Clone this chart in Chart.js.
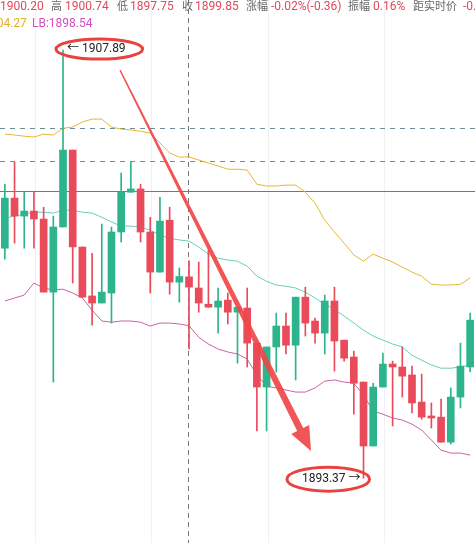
<!DOCTYPE html>
<html>
<head>
<meta charset="utf-8">
<script src="https://cdn.jsdelivr.net/npm/chart.js@4.4.1/dist/chart.umd.min.js"></script>
<style>
  html, body { margin: 0; padding: 0; background: #fff; }
  canvas { display: block; }
</style>
</head>
<body>
<canvas id="kline" width="475" height="543"></canvas>
<script>
const ctx = document.getElementById("kline");

// one label per candle
const labels = [
  "1", "2", "3", "4", "5", "6", "7", "8", "9", "10",
  "11", "12", "13", "14", "15", "16", "17", "18", "19", "20",
  "21", "22", "23", "24", "25", "26", "27", "28", "29", "30",
  "31", "32", "33", "34", "35", "36", "37", "38", "39", "40",
  "41", "42", "43", "44", "45", "46", "47", "48", "49",
];

const openP = [
  1901.17, 1902.87, 1902.26, 1902.43, 1902.16, 1899.68, 1901.89, 1904.5, 1901.21, 1899.55,
  1899.31, 1899.65, 1901.72, 1903.07, 1903.18, 1901.72, 1900.36, 1902.12, 1900.02, 1900.2,
  1899.82, 1899.27, 1899.17, 1899.41, 1899.0, 1899.14, 1897.95, 1896.46, 1897.82, 1898.53,
  1897.88, 1899.51, 1898.7, 1898.29, 1899.38, 1898.05, 1897.48, 1896.63, 1894.46, 1896.46,
  1897.24, 1897.14, 1896.87, 1895.95, 1895.48, 1895.44, 1894.59, 1896.12, 1897.14,
];
const highP = [
  1903.34, 1904.09, 1903.07, 1903.07, 1902.56, 1902.26, 1907.89, 1904.5, 1901.21, 1901.0,
  1901.99, 1901.89, 1903.72, 1904.09, 1903.34, 1902.22, 1902.9, 1902.56, 1900.5, 1900.74,
  1900.7, 1901.11, 1899.82, 1899.65, 1899.17, 1899.82, 1897.95, 1897.82, 1898.97, 1898.97,
  1899.51, 1899.85, 1898.8, 1899.58, 1899.85, 1898.05, 1897.68, 1896.63, 1896.59, 1897.61,
  1897.34, 1897.82, 1897.17, 1896.9, 1895.92, 1896.05, 1896.43, 1897.95, 1898.97,
];
const lowP = [
  1900.8, 1901.34, 1901.17, 1901.17, 1899.68, 1896.63, 1901.89, 1899.99, 1899.51, 1898.56,
  1899.31, 1898.63, 1901.38, 1903.07, 1901.38, 1899.65, 1900.36, 1899.61, 1899.34, 1897.75,
  1899.0, 1899.17, 1898.29, 1898.6, 1897.27, 1897.14, 1894.97, 1894.97, 1896.97, 1897.58,
  1896.7, 1898.19, 1897.95, 1897.58, 1897.0, 1897.34, 1895.54, 1893.37, 1894.46, 1896.46,
  1895.14, 1896.12, 1895.58, 1895.37, 1895.07, 1894.59, 1894.53, 1895.75, 1896.97,
];
const closeP = [
  1902.87, 1902.26, 1902.43, 1902.16, 1899.68, 1901.89, 1904.5, 1901.21, 1899.51, 1899.31,
  1899.68, 1901.72, 1903.07, 1903.18, 1901.72, 1900.36, 1902.09, 1900.02, 1900.21, 1899.85,
  1899.31, 1899.17, 1899.38, 1899.0, 1899.17, 1897.95, 1896.46, 1897.82, 1898.53, 1897.88,
  1899.51, 1898.63, 1898.29, 1899.38, 1898.02, 1897.44, 1896.59, 1894.46, 1896.46, 1897.24,
  1897.14, 1896.83, 1895.92, 1895.44, 1895.41, 1894.59, 1896.12, 1897.17, 1898.73,
];

// BOLL bands
const upperBand = [
  1905.04, 1905.01, 1904.97, 1904.94, 1905.04, 1905.01, 1905.24, 1905.28, 1905.45, 1905.55,
  1905.55, 1905.28, 1905.21, 1905.18, 1905.14, 1905.07, 1904.74, 1904.4, 1904.26, 1904.27,
  1904.16, 1904.06, 1903.96, 1903.85, 1903.85, 1903.82, 1903.34, 1903.28, 1903.28, 1903.31,
  1903.31, 1903.07, 1902.7, 1902.12, 1901.72, 1901.34, 1900.94, 1900.73, 1900.97, 1900.83,
  1900.7, 1900.53, 1900.36, 1900.22, 1899.95, 1899.92, 1899.92, 1899.95, 1900.16,
];
const midBand = [
  1902.19, 1902.26, 1902.33, 1902.39, 1902.39, 1902.36, 1902.46, 1902.46, 1902.39, 1902.36,
  1902.22, 1902.06, 1901.92, 1901.92, 1901.89, 1901.78, 1901.61, 1901.51, 1901.45, 1901.41,
  1901.21, 1900.97, 1900.83, 1900.77, 1900.73, 1900.56, 1900.22, 1900.05, 1899.92, 1899.88,
  1899.82, 1899.68, 1899.48, 1899.27, 1899.1, 1898.87, 1898.63, 1898.39, 1898.19, 1898.05,
  1897.92, 1897.82, 1897.54, 1897.37, 1897.21, 1897.1, 1897.1, 1897.14, 1897.21,
];
const lowerBand = [
  1899.38, 1899.48, 1899.58, 1899.99, 1899.82, 1899.75, 1899.78, 1899.65, 1899.48, 1899.07,
  1898.7, 1898.66, 1898.7, 1898.7, 1898.66, 1898.53, 1898.63, 1898.63, 1898.6, 1898.54,
  1898.15, 1897.92, 1897.75, 1897.65, 1897.58, 1897.41, 1896.87, 1896.49, 1896.43, 1896.36,
  1896.29, 1896.29, 1896.43, 1896.66, 1896.7, 1896.63, 1896.59, 1896.19, 1895.64, 1895.54,
  1895.41, 1895.34, 1895.2, 1895.0, 1894.66, 1894.32, 1894.22, 1894.22, 1894.15,
];

// price lines, crosshair and hand drawn marks
const solidLevels = [1903.11];
const dashLevels = [1905.24, 1904.12];
const gridIndex = [3.1, 15.1, 27.1, 39.1];
const crossIndex = 19;
const highMark = { index: 6, price: 1907.89, text: "\u2190 1907.89" };
const lowMark = { index: 37, price: 1893.37, text: "1893.37 \u2192" };
const arrowFrom = [11.88, 1907.21];
const arrowTo = [31.58, 1894.29];

// header rows: text, colour, x, font size
const headerLine1 = [
  ["开", "#666", -14, 11], ["1900.20", "#e0485c", 0, 12], ["高", "#666", 51, 11],
  ["1900.74", "#e0485c", 65, 12], ["低", "#666", 117, 11], ["1897.75", "#e0485c", 130, 12],
  ["收", "#666", 182, 11], ["1899.85", "#e0485c", 195, 12], ["涨幅", "#666", 246, 11],
  ["-0.02%(-0.36)", "#e0485c", 271, 12], ["振幅", "#666", 348, 11], ["0.16%", "#e0485c", 373, 12],
  ["距实时价", "#666", 413, 11], ["-0.35", "#e0485c", 463, 12],
];
const headerLine2 = [["UB:1904.27", "#e3b02a", -35, 12], ["LB:1898.54", "#d44fc2", 32, 12]];

const up = "#2db48c";
const down = "#ea4b5b";
const candleColors = closeP.map((c, i) => (c >= openP[i] ? up : down));

const FONT = 'Roboto, "Noto Sans CJK SC", sans-serif';

function drawArrow(c, x0, y0, x1, y1) {
  const dx = x1 - x0, dy = y1 - y0, len = Math.hypot(dx, dy);
  const ux = dx / len, uy = dy / len, px = -uy, py = ux;
  const headLen = 24, headHalf = 10, w0 = 0.7, w1 = 3.4;
  const bx = x1 - ux * headLen, by = y1 - uy * headLen;
  c.fillStyle = "rgba(240, 70, 70, 0.92)";
  c.beginPath();
  c.moveTo(x0 + px * w0, y0 + py * w0);
  c.lineTo(bx + px * w1, by + py * w1);
  c.lineTo(bx + px * headHalf, by + py * headHalf);
  c.lineTo(x1, y1);
  c.lineTo(bx - px * headHalf, by - py * headHalf);
  c.lineTo(bx - px * w1, by - py * w1);
  c.lineTo(x0 - px * w0, y0 - py * w0);
  c.closePath();
  c.fill();
}

const overlay = {
  id: "overlay",
  beforeDatasetsDraw(chart) {
    const c = chart.ctx, xs = chart.scales.x, ys = chart.scales.y;
    const a = chart.chartArea;
    c.save();
    c.lineWidth = 1;
    // faint vertical grid
    c.strokeStyle = "#f1f1f1";
    gridIndex.forEach((v) => {
      const x = Math.round(xs.getPixelForValue(v)) + 0.5;
      c.beginPath(); c.moveTo(x, a.top); c.lineTo(x, a.bottom); c.stroke();
    });
    c.strokeStyle = "#5b7ea6";
    solidLevels.forEach((v) => {
      const y = Math.round(ys.getPixelForValue(v)) + 0.5;
      c.beginPath(); c.moveTo(a.left, y); c.lineTo(a.right, y); c.stroke();
    });
    c.strokeStyle = "#6d8e96";
    c.setLineDash([5, 5]);
    dashLevels.forEach((v) => {
      const y = Math.round(ys.getPixelForValue(v)) + 0.5;
      c.beginPath(); c.moveTo(a.left, y); c.lineTo(a.right, y); c.stroke();
    });
    c.strokeStyle = "#777";
    c.setLineDash([5, 4]);
    const cx = Math.round(xs.getPixelForValue(crossIndex)) - 0.5;
    c.beginPath(); c.moveTo(cx, a.top); c.lineTo(cx, a.bottom); c.stroke();
    c.restore();
  },
  afterDatasetsDraw(chart) {
    const c = chart.ctx, xs = chart.scales.x, ys = chart.scales.y;
    c.save();
    drawArrow(c,
      xs.getPixelForValue(arrowFrom[0]), ys.getPixelForValue(arrowFrom[1]),
      xs.getPixelForValue(arrowTo[0]), ys.getPixelForValue(arrowTo[1]));

    c.font = "12px " + FONT;
    c.textBaseline = "middle";
    // high
    let x = xs.getPixelForValue(highMark.index) + 4;
    let y = ys.getPixelForValue(highMark.price) - 1;
    let w = c.measureText(highMark.text).width;
    c.fillStyle = "#222";
    c.textAlign = "left";
    c.fillText(highMark.text, x, y);
    c.strokeStyle = "#e8433f";
    c.lineWidth = 3;
    c.beginPath();
    c.ellipse(x + w / 2 + 3, y, w / 2 + 14, 10, 0, 0, Math.PI * 2);
    c.stroke();
    // low
    x = xs.getPixelForValue(lowMark.index) - 3;
    y = ys.getPixelForValue(lowMark.price) + 1;
    w = c.measureText(lowMark.text).width;
    c.textAlign = "right";
    c.fillText(lowMark.text, x, y);
    c.beginPath();
    c.ellipse(x - w / 2 - 3, y, w / 2 + 12, 12, 0, 0, Math.PI * 2);
    c.stroke();
    c.restore();
  },
  afterDraw(chart) {
    const c = chart.ctx;
    c.save();
    c.textBaseline = "alphabetic";
    c.textAlign = "left";
    const row = (parts, y) => parts.forEach(([t, col, x, size]) => {
      c.font = size + "px " + FONT;
      c.fillStyle = col;
      c.fillText(t, x, y);
    });
    row(headerLine1, 10);
    row(headerLine2, 27);
    c.restore();
  },
};

new Chart(ctx, {
  type: "bar",
  data: {
    labels: labels,
    datasets: [
      {
        label: "body",
        data: openP.map((o, i) => [o, closeP[i]]),
        backgroundColor: candleColors,
        barThickness: 7,
        grouped: false,
        order: 1,
      },
      {
        label: "wick",
        data: lowP.map((l, i) => [l, highP[i]]),
        backgroundColor: candleColors,
        barThickness: 1,
        grouped: false,
        order: 2,
      },
      {
        type: "line",
        label: "UB",
        data: upperBand,
        borderColor: "#e8b62e",
        borderWidth: 1,
        pointRadius: 0,
        order: 3,
      },
      {
        type: "line",
        label: "MID",
        data: midBand,
        borderColor: "#66cfb6",
        borderWidth: 1,
        pointRadius: 0,
        order: 3,
      },
      {
        type: "line",
        label: "LB",
        data: lowerBand,
        borderColor: "#cf5fa6",
        borderWidth: 1,
        pointRadius: 0,
        order: 3,
      },
    ],
  },
  options: {
    responsive: false,
    animation: false,
    layout: { padding: 0 },
    plugins: {
      legend: { display: false },
      tooltip: { enabled: false },
    },
    scales: {
      x: { display: false, offset: true },
      y: { display: false, min: 1891.17, max: 1909.59 },
    },
  },
  plugins: [overlay],
});
</script>
</body>
</html>
